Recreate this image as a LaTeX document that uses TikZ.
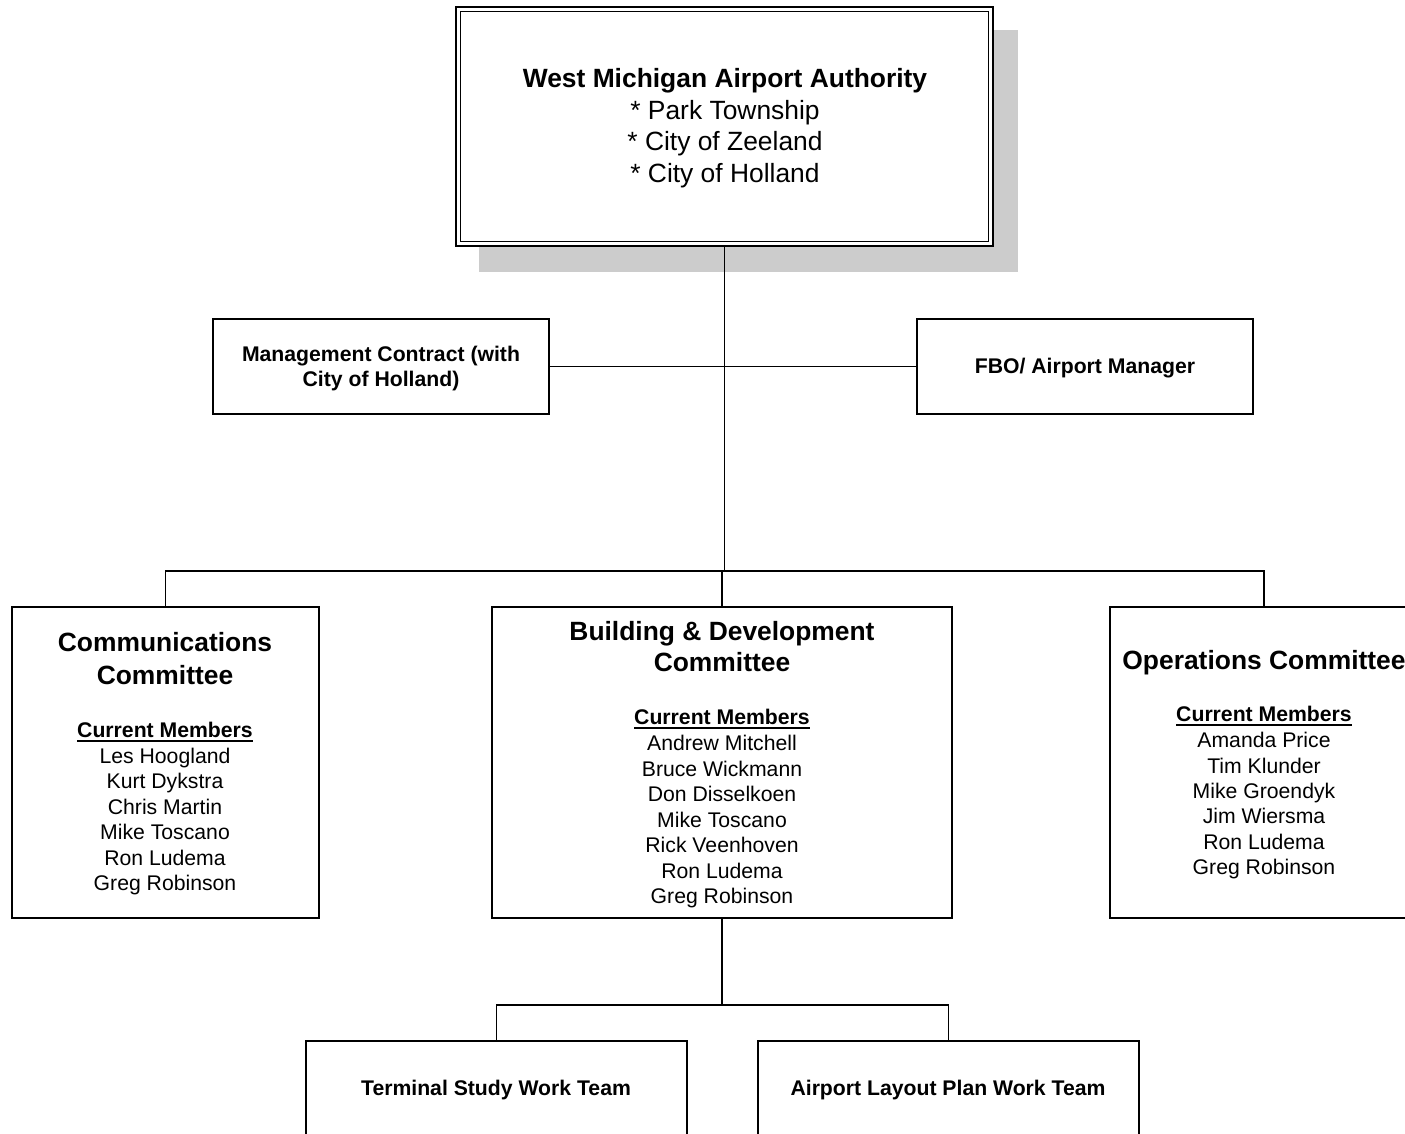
\documentclass[tikz,border=0pt]{standalone}
\usepackage{fontspec}
\setmainfont{Liberation Sans}
\definecolor{shadowgray}{RGB}{204,204,204}
\newcommand\ulmem[1]{\setbox0\hbox{#1}\rlap{\rule[-2.1pt]{\wd0}{0.9pt}}\box0}
\begin{document}
\begin{tikzpicture}[x=0.5pt,y=-0.5pt,
  box/.style={draw,line width=0.75pt,fill=white,inner sep=0pt,outer sep=0pt,rectangle},
  conn/.style={line width=0.7pt},
  bigb/.style={anchor=base,inner sep=0pt,font=\bfseries\fontsize{13.2}{16}\selectfont},
  bigr/.style={anchor=base,inner sep=0pt,font=\fontsize{13.2}{16}\selectfont},
  smallb/.style={anchor=base,inner sep=0pt,font=\bfseries\fontsize{10.6}{12.7}\selectfont},
  smallr/.style={anchor=base,inner sep=0pt,font=\fontsize{10.6}{12.7}\selectfont}]
\useasboundingbox (0,0) rectangle (1405,1134);
\clip (0,0) rectangle (1405,1134);
\fill[white] (0,0) rectangle (1405,1134);

% top box with shadow and double border
\fill[shadowgray] (479,30) rectangle (1018,272);
\node[box,line width=1.2pt,minimum width=268.5pt,minimum height=119.5pt] (top) at (724.5,126.5) {};
\draw[line width=0.7pt] ([shift={(2.25pt,-2.25pt)}]top.north west) rectangle ([shift={(-2.25pt,2.25pt)}]top.south east);
\node[bigb] (topt1) at (725,87.5) {West Michigan Airport Authority};
\node[bigr] (topt2) at (725,119.3) {* Park Township};
\node[bigr] (topt3) at (725,151) {* City of Zeeland};
\node[bigr] (topt4) at (725,183) {* City of Holland};

% second level
\node[box,minimum width=168pt,minimum height=47.5pt] (mgmt) at (381,366.5) {};
\node[smallb] (mgmtt1) at (381,361.6) {Management Contract (with};
\node[smallb] (mgmtt2) at (381,386.6) {City of Holland)};
\node[box,minimum width=168pt,minimum height=47.5pt] (fbo) at (1085,366.5) {};
\node[smallb] (fbot) at (1085,373.6) {FBO/ Airport Manager};

% committees
\node[box,minimum width=153.5pt,minimum height=155.5pt] (comm) at (165.5,762.5) {};
\node[bigb] (commt1) at (165,652) {Communications};
\node[bigb] (commt2) at (165,684.5) {Committee};
\node[smallb] (commt3) at (165,737.5) {\ulmem{Current Members}};
\foreach \n [count=\i] in {Les Hoogland,Kurt Dykstra,Chris Martin,Mike Toscano,Ron Ludema,Greg Robinson}
  \node[smallr] (commm\i) at (165,{763.5+25.4*(\i-1)}) {\n};

\node[box,minimum width=230pt,minimum height=155.5pt] (bd) at (722,762.5) {};
\node[bigb] (bdt1) at (722,640.5) {Building \& Development};
\node[bigb] (bdt2) at (722,671.5) {Committee};
\node[smallb] (bdt3) at (722,724.6) {\ulmem{Current Members}};
\foreach \n [count=\i] in {Andrew Mitchell,Bruce Wickmann,Don Disselkoen,Mike Toscano,Rick Veenhoven,Ron Ludema,Greg Robinson}
  \node[smallr] (bdm\i) at (722,{750.6+25.5*(\i-1)}) {\n};

\node[box,minimum width=154pt,minimum height=155.5pt] (ops) at (1264,762.5) {};
\node[bigb] (opst1) at (1264,669.5) {Operations Committee};
\node[smallb] (opst2) at (1264,721.6) {\ulmem{Current Members}};
\foreach \n [count=\i] in {Amanda Price,Tim Klunder,Mike Groendyk,Jim Wiersma,Ron Ludema,Greg Robinson}
  \node[smallr] (opsm\i) at (1264,{747.6+25.4*(\i-1)}) {\n};

% work teams
\node[box,minimum width=190.5pt,minimum height=47.5pt] (term) at (496.5,1088.5) {};
\node[smallb] (termt) at (496,1095.6) {Terminal Study Work Team};
\node[box,minimum width=190.5pt,minimum height=47.5pt] (alp) at (948.5,1088.5) {};
\node[smallb] (alpt) at (948,1095.6) {Airport Layout Plan Work Team};

% connectors
\coordinate (bus) at (724.5,571);
\coordinate (bus2) at (722,1005);
\draw[conn] (top.south) -- (bus);
\draw[conn] (mgmt.east) -- (fbo.west);
\draw[conn] (comm.north) |- (bus) -| (ops.north);
\draw[conn] (bd.north) -- (bd.north |- bus);
\draw[conn] (bd.south) -- (bus2);
\draw[conn] (term.north) |- (bus2) -| (alp.north);
\end{tikzpicture}
\end{document}
